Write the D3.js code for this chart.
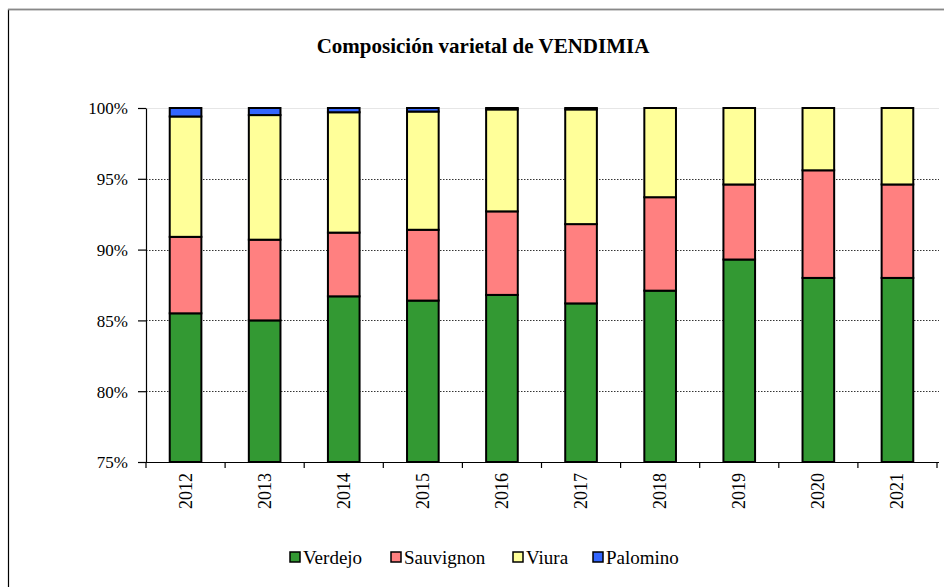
<!DOCTYPE html>
<html>
<head>
<meta charset="utf-8">
<script src="https://cdn.jsdelivr.net/npm/d3@7"></script>
<style>
  body { margin: 0; background: #fff; }
</style>
</head>
<body>
<div id="chart"></div>
<script>
// Data (percent share of each variety per harvest year)
const years = ["2012", "2013", "2014", "2015", "2016", "2017", "2018", "2019", "2020", "2021"];
const varieties = ["Verdejo", "Sauvignon", "Viura", "Palomino"];
const verdejo   = [85.5, 85.0, 86.7, 86.4, 86.8, 86.2, 87.1, 89.3, 88.0, 88.0];
const sauvignon = [5.4, 5.7, 4.5, 5.0, 5.9, 5.6, 6.6, 5.3, 7.6, 6.6];
const viura     = [8.5, 8.8, 8.5, 8.35, 7.2, 8.1, 6.3, 5.4, 4.4, 5.4];
const palomino  = [0.6, 0.5, 0.3, 0.25, 0.1, 0.1, 0.0, 0.0, 0.0, 0.0];
const yTicks = [75, 80, 85, 90, 95, 100];
const colors = ["#339933", "#ff8080", "#ffff99", "#3366ff"];

const FONT = "'Liberation Serif', 'Times New Roman', Tinos, 'Noto Serif', 'DejaVu Serif', FreeSerif, serif";

const W = 944, H = 587;
const margin = {top: 108, right: 7, bottom: 125, left: 146};
const width = W - margin.left - margin.right;
const height = H - margin.top - margin.bottom;

const svg = d3.select("#chart").append("svg")
    .attr("width", W)
    .attr("height", H);

// chart frame
svg.append("rect")
    .attr("x", 8.5).attr("y", 9.5)
    .attr("width", 960).attr("height", 620)
    .attr("fill", "none")
    .attr("stroke", "#000")
    .attr("stroke-width", 1.2);
svg.append("line")
    .attr("x1", 8).attr("x2", W).attr("y1", 9.5).attr("y2", 9.5)
    .attr("stroke", "#888").attr("stroke-width", 1.5);

svg.append("text")
    .attr("x", 483)
    .attr("y", 53)
    .attr("text-anchor", "middle")
    .style("font-family", FONT)
    .style("font-size", "21px")
    .style("font-weight", "bold")
    .text("Composición varietal de VENDIMIA");

const g = svg.append("g")
    .attr("transform", `translate(${margin.left}, ${margin.top})`);

const x = d3.scaleBand()
    .domain(years)
    .range([0, width])
    .paddingInner(0.6)
    .paddingOuter(0.3);

const y = d3.scaleLinear()
    .domain([75, 100])
    .range([height, 0]);

// gridlines
g.selectAll(".grid")
    .data(yTicks.filter(t => t > 75))
    .enter()
    .append("line")
    .attr("x1", 0).attr("x2", width + 2)
    .attr("y1", d => Math.round(y(d)) + 0.5)
    .attr("y2", d => Math.round(y(d)) + 0.5)
    .attr("stroke", d => d === 100 ? "#e0e0e0" : "#000")
    .attr("stroke-width", 0.8)
    .attr("stroke-dasharray", d => d === 100 ? null : "1.5,1.5");

// stack
const rows = years.map((yr, i) => ({
    year: yr,
    Verdejo: verdejo[i],
    Sauvignon: sauvignon[i],
    Viura: viura[i],
    Palomino: palomino[i]
}));
const stack = d3.stack().keys(varieties)(rows);

g.selectAll(".layer")
    .data(stack)
    .enter()
    .append("g")
    .attr("fill", (d, i) => colors[i])
    .selectAll("rect")
    .data(d => d)
    .enter()
    .append("rect")
    .attr("x", d => x(d.data.year))
    .attr("width", x.bandwidth())
    .attr("y", d => y(Math.min(100, d[1])))
    .attr("height", d => Math.max(0, y(Math.max(75, d[0])) - y(Math.min(100, d[1]))))
    .attr("stroke", "#000")
    .attr("stroke-width", 2);

// y axis
const yAxis = g.append("g")
    .call(d3.axisLeft(y).tickValues(yTicks).tickFormat(d => d + "%").tickSize(8).tickSizeOuter(0));
yAxis.attr("font-family", null);
yAxis.select(".domain").attr("stroke-width", 1.2);
yAxis.selectAll("line").attr("stroke-width", 1.2);
yAxis.selectAll("text")
    .attr("x", -18)
    .attr("dy", "0.35em")
    .style("font-family", FONT)
    .style("font-size", "17px");

// x axis
const xAxis = g.append("g")
    .attr("transform", `translate(0, ${height})`);
xAxis.append("line")
    .attr("x1", -8).attr("x2", width + 2)
    .attr("y1", 0.5).attr("y2", 0.5)
    .attr("stroke", "#000").attr("stroke-width", 1.2);
xAxis.selectAll(".tick")
    .data(d3.range(years.length + 1))
    .enter()
    .append("line")
    .attr("x1", i => i * x.step() - x.step() * (x.paddingOuter() - x.paddingInner() / 2))
    .attr("x2", i => i * x.step() - x.step() * (x.paddingOuter() - x.paddingInner() / 2))
    .attr("y1", 0).attr("y2", 6)
    .attr("stroke", "#000").attr("stroke-width", 1.2);
xAxis.selectAll(".lbl")
    .data(years)
    .enter()
    .append("text")
    .attr("transform", d => `translate(${x(d) + x.bandwidth() / 2 + 6}, 11) rotate(-90)`)
    .attr("text-anchor", "end")
    .style("font-family", FONT)
    .style("font-size", "18px")
    .text(d => d);

// legend
const legendX = [290, 391, 513, 593];
const legend = svg.append("g").attr("transform", "translate(0, 557)");
varieties.forEach((v, i) => {
    legend.append("rect")
        .attr("x", legendX[i]).attr("y", -5)
        .attr("width", 10).attr("height", 10)
        .attr("fill", colors[i])
        .attr("stroke", "#000").attr("stroke-width", 1.5);
    legend.append("text")
        .attr("x", legendX[i] + 13)
        .attr("y", 7)
        .style("font-family", FONT)
        .style("font-size", "19px")
        .text(v);
});
</script>
</body>
</html>
